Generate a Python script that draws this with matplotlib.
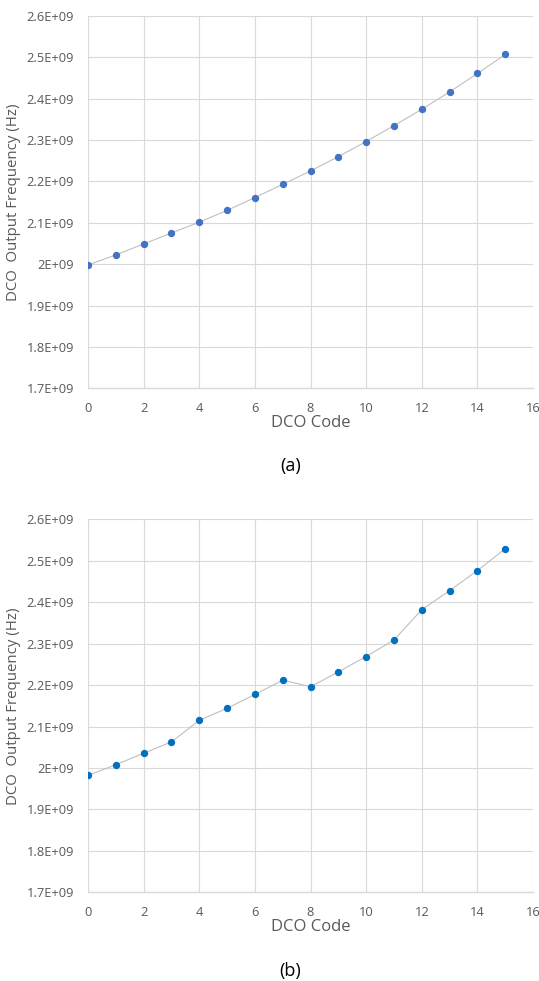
import matplotlib.pyplot as plt

# --- Data ---
dco_code = list(range(16))
freq_a = [1.998e9, 2.0225e9, 2.049e9, 2.0755e9, 2.1015e9, 2.130e9, 2.161e9, 2.193e9,
          2.2255e9, 2.260e9, 2.2965e9, 2.335e9, 2.3745e9, 2.4165e9, 2.461e9, 2.507e9]
freq_b = [1.982e9, 2.008e9, 2.0355e9, 2.063e9, 2.115e9, 2.144e9, 2.1775e9, 2.212e9,
          2.196e9, 2.232e9, 2.269e9, 2.309e9, 2.382e9, 2.428e9, 2.4765e9, 2.529e9]
y_ticks = [1.7e9, 1.8e9, 1.9e9, 2.0e9, 2.1e9, 2.2e9, 2.3e9, 2.4e9, 2.5e9, 2.6e9]
y_tick_labels = ["1.7E+09", "1.8E+09", "1.9E+09", "2E+09", "2.1E+09",
                 "2.2E+09", "2.3E+09", "2.4E+09", "2.5E+09", "2.6E+09"]
x_ticks = [0, 2, 4, 6, 8, 10, 12, 14, 16]
panel_labels = ["(a)", "(b)"]

plt.rcParams['font.family'] = ['Open Sans', 'DejaVu Sans']
text_color = "#595959"
grid_color = "#D9D9D9"

fig = plt.figure(figsize=(5.39, 9.81), dpi=100)
ax_a = fig.add_axes([0.1633, 0.6042, 0.8257, 0.3795])
ax_b = fig.add_axes([0.1633, 0.0904, 0.8257, 0.3802])


def style_axis(ax, freqs, marker_color, label):
    ax.plot(dco_code, freqs, color="#BFBFBF", linewidth=0.8, zorder=2)
    ax.scatter(dco_code, freqs, s=28, color=marker_color, zorder=3, linewidths=0)
    ax.set_xlim(0, 16)
    ax.set_ylim(1.7e9, 2.6e9)
    ax.set_xticks(x_ticks)
    ax.set_yticks(y_ticks)
    ax.set_yticklabels(y_tick_labels)
    ax.grid(True, color=grid_color, linewidth=0.8, zorder=0)
    ax.set_axisbelow(True)
    for side in ["top", "right", "left"]:
        ax.spines[side].set_visible(False)
    ax.spines["bottom"].set_color(grid_color)
    ax.spines["bottom"].set_linewidth(1.0)
    ax.tick_params(axis="both", length=0, labelsize=9.3, colors=text_color)
    ax.tick_params(axis="x", pad=10)
    ax.tick_params(axis="y", pad=10)
    ax.set_xlabel("DCO Code", fontsize=12, color=text_color, labelpad=0)
    ax.set_ylabel("DCO  Output Frequency (Hz)", fontsize=10.8, color=text_color, labelpad=4)
    ax.text(0.455, -0.21, label, transform=ax.transAxes, ha="center", va="center",
            fontsize=13, color="black")


style_axis(ax_a, freq_a, "#4472C4", panel_labels[0])
style_axis(ax_b, freq_b, "#0070C0", panel_labels[1])

fig.savefig("out.png", dpi=100)
